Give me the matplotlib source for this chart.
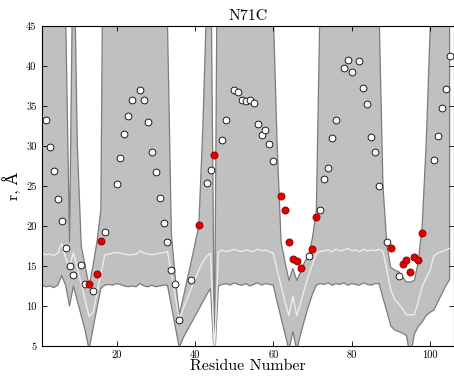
import numpy as np
import matplotlib
matplotlib.use('Agg')
import matplotlib.pyplot as plt

plt.rcParams['font.family'] = ['cmr10', 'DejaVu Serif']
plt.rcParams['mathtext.fontset'] = 'cm'
plt.rcParams['axes.unicode_minus'] = False

# residue numbers for the predicted band
res = np.arange(1, 106)

lower = [12.6, 12.4, 12.5, 12.3, 12.6, 13.8, 12.6, 10.0, 12.5, 10.6,
         8.8, 6.9, 4.5, 7.2, 9.7, 12.2, 12.6, 12.7, 12.6, 12.8,
         12.7, 12.5, 12.4, 12.5, 12.4, 12.8, 12.5, 12.4, 12.6, 12.4,
         12.5, 12.6, 12.6, 10.0, 7.4, 4.8, 6.0, 6.9, 7.8, 8.7,
         9.6, 10.5, 11.4, 12.2, 3.0, 12.5, 12.7, 12.8, 12.6, 12.9,
         12.7, 12.6, 12.8, 12.5, 12.7, 12.9, 12.6, 12.8, 12.7, 12.6,
         10.5, 8.5, 6.5, 4.5, 6.8, 4.5, 6.5, 8.3, 10.0, 11.5,
         12.6, 12.8, 12.7, 12.9, 12.6, 12.8, 12.7, 12.9, 12.6, 12.8,
         12.7, 12.6, 12.9, 12.7, 12.6, 12.8, 12.8, 11.0, 9.3, 7.5,
         7.0, 6.8, 6.6, 6.3, 3.5, 6.5, 7.4, 8.0, 8.8, 9.2,
         9.5, 10.5, 11.5, 12.5, 13.3]

mean = [16.6, 16.4, 16.5, 16.3, 16.6, 17.8, 16.0, 14.9, 16.7, 14.7,
        12.7, 10.7, 8.7, 9.2, 11.6, 14.0, 16.4, 16.5, 16.6, 16.7,
        16.6, 16.5, 16.4, 16.4, 16.5, 16.9, 16.6, 16.5, 16.4, 16.5,
        16.6, 16.7, 16.8, 14.0, 11.2, 8.3, 9.6, 10.9, 12.1, 13.3,
        14.5, 15.5, 16.2, 16.6, 4.0, 16.7, 17.0, 16.8, 16.9, 17.1,
        16.9, 16.8, 17.0, 16.9, 16.8, 17.1, 16.9, 17.0, 16.8, 16.6,
        14.5, 12.5, 10.5, 8.8, 11.2, 8.8, 10.4, 12.2, 13.8, 15.2,
        16.6, 16.8, 16.9, 17.0, 16.8, 17.1, 16.9, 17.0, 17.2, 16.9,
        17.0, 16.8, 17.1, 16.9, 17.0, 16.9, 17.1, 16.8, 14.5, 12.0,
        10.8, 10.3, 9.6, 8.9, 8.9, 8.9, 10.5, 12.4, 13.5, 14.4,
        16.3, 16.6, 16.8, 17.0, 17.2]

upper = [70, 72, 75, 74, 70, 65, 47, 18, 60, 30,
         17.5, 15.0, 12.5, 15.0, 18.0, 22.0, 86, 80, 82, 80,
         84, 80, 78, 82, 80, 85, 80, 79, 82, 80,
         78, 70, 45.5, 19.0, 13.5, 9.0, 11.0, 13.2, 15.4, 17.7,
         20.0, 32, 48, 58, 4.0, 76, 80, 82, 80, 84,
         80, 79, 82, 80, 78, 82, 80, 79, 70, 47,
         30, 18, 15.5, 13.2, 14.7, 13.2, 14.3, 15.5, 16.3, 18.5,
         22, 50, 75, 80, 82, 80, 84, 80, 79, 82,
         80, 78, 82, 80, 75, 70, 47, 25, 17.5, 14.8,
         14.5, 14.3, 13.6, 13.0, 13.0, 13.2, 15.5, 20, 30, 44,
         58, 70, 75, 75, 75]

# measured distances
white_res = [2, 3, 4, 5, 6, 7, 8, 9, 11, 12, 14, 17, 20, 21, 22, 23, 24,
             26, 27, 28, 29, 30, 31, 32, 33, 34, 35, 36, 39, 43, 44,
             47, 48, 50, 51, 52, 53, 54, 55, 56, 57, 58, 59, 60,
             69, 72, 73, 74, 75, 76, 78, 79, 80, 82, 83, 84, 85, 86, 87,
             89, 92, 101, 102, 103, 104, 105]
white_val = [33.3, 29.9, 26.9, 23.4, 20.6, 17.2, 15.0, 13.9, 15.1, 12.8,
             11.9, 19.2, 25.3, 28.5, 31.5, 33.8, 35.8, 37.0, 35.8, 33.0,
             29.3, 26.7, 23.5, 20.4, 18.0, 14.5, 12.7, 8.2, 13.3, 25.4,
             27.0, 30.8, 33.3, 37.0, 36.7, 35.75, 35.6, 35.7, 35.4, 32.8,
             31.4, 32.0, 30.3, 28.1, 16.2, 22.0, 25.9, 27.25, 31.0, 33.2,
             39.7, 40.75, 39.2, 40.6, 37.25, 35.25, 31.1, 29.3, 25.0, 18.0,
             13.8, 28.3, 31.3, 34.7, 37.1, 41.3]

red_res = [13, 15, 16, 41, 45, 62, 63, 64, 65, 66, 67, 70, 71,
           90, 93, 94, 95, 96, 97, 98]
red_val = [12.8, 14.0, 18.1, 20.1, 28.9, 23.7, 22.0, 18.0, 15.9, 15.6,
           14.75, 17.1, 21.1, 17.2, 15.3, 15.7, 14.3, 16.1, 15.75, 19.1]

fig = plt.figure(figsize=(4.54, 3.79), dpi=100)
ax = fig.add_axes([0.0927, 0.0871, 0.9062, 0.8443])

ax.fill_between(res, lower, upper, facecolor='#c0c0c0', edgecolor='#7c7c7c',
                linewidth=0.9, zorder=1)
ax.plot(res, mean, color='#ececec', linewidth=1.0, zorder=2)

ax.scatter(white_res, white_val, s=24, facecolor='white', edgecolor='black',
           linewidth=0.6, zorder=3)
ax.scatter(red_res, red_val, s=26, facecolor='#e00000', edgecolor='#8a0000',
           linewidth=0.6, zorder=4)

ax.set_xlim(1, 106)
ax.set_ylim(5, 45)
ax.set_xticks([20, 40, 60, 80, 100])
ax.set_yticks(np.arange(5, 46, 5))
ax.tick_params(direction='in', top=True, right=True, length=3.5, width=0.6,
               labelsize=7.5)
ax.tick_params(axis='x', pad=3)
ax.tick_params(axis='y', pad=4)

ax.set_title('N71C', fontsize=11.5, pad=4)
ax.set_xlabel('Residue Number', fontsize=11.5, labelpad=0)
ax.set_ylabel('r, Å', fontsize=11.5, labelpad=4)

fig.savefig('out.png', dpi=100)
